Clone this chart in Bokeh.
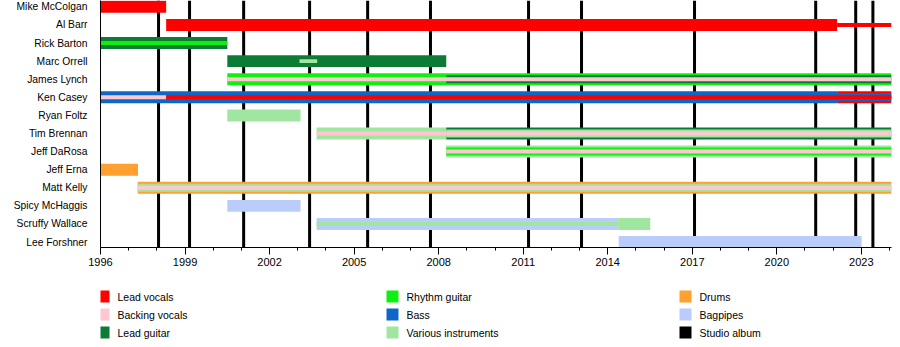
from bokeh.plotting import figure
from bokeh.models import Range1d, FixedTicker, Span, ColumnDataSource
from bokeh.layouts import column
from bokeh.core.properties import value
from bokeh.embed import file_html
from bokeh.resources import INLINE

FONT = "Liberation Sans"

members = ["Mike McColgan", "Al Barr", "Rick Barton", "Marc Orrell", "James Lynch",
           "Ken Casey", "Ryan Foltz", "Tim Brennan", "Jeff DaRosa", "Jeff Erna",
           "Matt Kelly", "Spicy McHaggis", "Scruffy Wallace", "Lee Forshner"]

START = 1996.0
END = 2024.07

roles = ["Lead vocals", "Backing vocals", "Lead guitar", "Rhythm guitar", "Bass",
         "Various instruments", "Drums", "Bagpipes", "Studio album"]
role_colors = ["#FF0000", "#FFC8D0", "#0B7B36", "#10F010", "#0E66C6",
               "#A0E6A0", "#FFA030", "#BACCFA", "#000000"]

# Main (full-width) bars
main_member = ["Mike McColgan", "Al Barr", "Rick Barton", "Marc Orrell", "James Lynch",
               "Ken Casey", "Ken Casey", "Ryan Foltz", "Tim Brennan", "Tim Brennan",
               "Jeff DaRosa", "Jeff Erna", "Matt Kelly", "Spicy McHaggis",
               "Scruffy Wallace", "Scruffy Wallace", "Lee Forshner"]
main_role = ["Lead vocals", "Lead vocals", "Lead guitar", "Lead guitar", "Rhythm guitar",
             "Bass", "Lead vocals", "Various instruments", "Various instruments", "Lead guitar",
             "Various instruments", "Drums", "Drums", "Bagpipes",
             "Bagpipes", "Various instruments", "Bagpipes"]
main_start = [1996.0, 1998.33, 1996.0, 2000.5, 2000.5,
              1996.0, 2022.14, 2000.5, 2003.67, 2008.27,
              2008.27, 1996.0, 1997.32, 2000.5,
              2003.67, 2014.37, 2014.39]
main_end = [1998.33, 2022.14, 2000.5, 2008.27, END,
            2022.14, END, 2003.1, 2008.27, END,
            END, 1997.33, END, 2003.1,
            2014.37, 2015.51, 2023.01]

# Middle stripes
mid_member = ["James Lynch", "Tim Brennan", "Jeff DaRosa", "Matt Kelly", "Ken Casey"]
mid_role = ["Lead guitar", "Various instruments", "Rhythm guitar", "Various instruments", "Bass"]
mid_start = [2008.27, 2008.27, 2008.27, 1997.32, 2022.14]
mid_end = [END, END, END, END, END]

# Inner stripes
inner_member = ["Al Barr", "Rick Barton", "Marc Orrell", "James Lynch", "Ken Casey",
                "Ken Casey", "Ken Casey", "Tim Brennan", "Jeff DaRosa", "Matt Kelly",
                "Scruffy Wallace"]
inner_role = ["Lead vocals", "Rhythm guitar", "Various instruments", "Backing vocals", "Backing vocals",
              "Lead vocals", "Lead vocals", "Backing vocals", "Backing vocals", "Backing vocals",
              "Various instruments"]
inner_start = [2022.14, 1996.0, 2003.06, 2000.5, 1996.0,
               1998.33, 2022.14, 2003.67, 2008.27, 1997.32,
               2003.67]
inner_end = [END, 2000.5, 2003.69, END, 1998.33,
             2022.14, END, END, END, END,
             2014.37]

album_dates = [1998.06, 1999.16, 2001.08, 2003.42, 2005.48, 2007.71,
               2011.19, 2013.07, 2017.08, 2021.38, 2022.80, 2023.41]

major_years = [1996, 1999, 2002, 2005, 2008, 2011, 2014, 2017, 2020, 2023]
minor_years = list(range(1996, 2025))

color_of = dict(zip(roles, role_colors))
row_of = {m: len(members) - 1 - i for i, m in enumerate(members)}

p = figure(width=900, height=280, x_range=Range1d(START, END),
           y_range=Range1d(-0.30, 13.35), output_backend="svg",
           toolbar_location=None, min_border_left=100, min_border_right=9,
           min_border_top=0, min_border_bottom=33)
p.xgrid.visible = False
p.ygrid.visible = False
p.outline_line_color = None
p.background_fill_color = "white"
p.border_fill_color = "white"

for d in album_dates:
    p.add_layout(Span(location=d, dimension="height", line_color="black",
                      line_width=3, level="underlay"))

def draw(mem, rol, st, en, h):
    src = ColumnDataSource(dict(
        y=[row_of[m] for m in mem], left=st, right=en,
        color=[color_of[r] for r in rol]))
    p.hbar(y="y", left="left", right="right", height=h, fill_color="color",
           line_color=None, source=src)

draw(main_member, main_role, main_start, main_end, 0.66)
draw(mid_member, mid_role, mid_start, mid_end, 0.44)
draw(inner_member, inner_role, inner_start, inner_end, 0.22)

p.yaxis.ticker = FixedTicker(ticks=list(range(len(members))))
p.yaxis.major_label_overrides = {row_of[m]: m for m in members}
p.yaxis.major_tick_line_color = None
p.yaxis.minor_tick_line_color = None
p.yaxis.axis_line_color = "black"
p.yaxis.major_label_standoff = 7
p.yaxis.major_label_text_font = FONT
p.yaxis.major_label_text_font_size = "10.3px"
p.yaxis.major_label_text_color = "black"

p.xaxis.ticker = FixedTicker(ticks=major_years, minor_ticks=minor_years)
p.xaxis.major_tick_out = 7
p.xaxis.major_tick_in = 0
p.xaxis.minor_tick_out = 3
p.xaxis.minor_tick_in = 0
p.xaxis.major_label_standoff = 3
p.xaxis.axis_line_color = "black"
p.xaxis.major_tick_line_color = "black"
p.xaxis.minor_tick_line_color = "black"
p.xaxis.major_label_text_font = FONT
p.xaxis.major_label_text_font_size = "11px"
p.xaxis.major_label_text_color = "black"

# Legend panel (frame aligned with the chart frame: x data == page pixels)
leg = figure(width=900, height=67, x_range=Range1d(100, 891), y_range=Range1d(347, 280),
             output_backend="svg", toolbar_location=None, min_border=0,
             min_border_left=100, min_border_right=9,
             x_axis_location=None, y_axis_location=None)
leg.xgrid.visible = False
leg.ygrid.visible = False
leg.outline_line_color = None

col_x = [97, 386, 679]
row_y = [296, 314, 332]
lx = [col_x[i // 3] for i in range(len(roles))]
ly = [row_y[i % 3] for i in range(len(roles))]
lsrc = ColumnDataSource(dict(x=[v + 6 for v in lx], tx=[v + 20 for v in lx], y=ly,
                             label=roles, color=role_colors))
leg.rect(x="x", y="y", width=12, height=12, fill_color="color", line_color=None, source=lsrc)
leg.text(x="tx", y="y", text="label", text_baseline="middle", text_align="left",
         text_font=value(FONT), text_font_size="10.5px", text_color="black", source=lsrc)

layout = column(p, leg, spacing=0)
open("out.html", "w").write(file_html(layout, INLINE))
